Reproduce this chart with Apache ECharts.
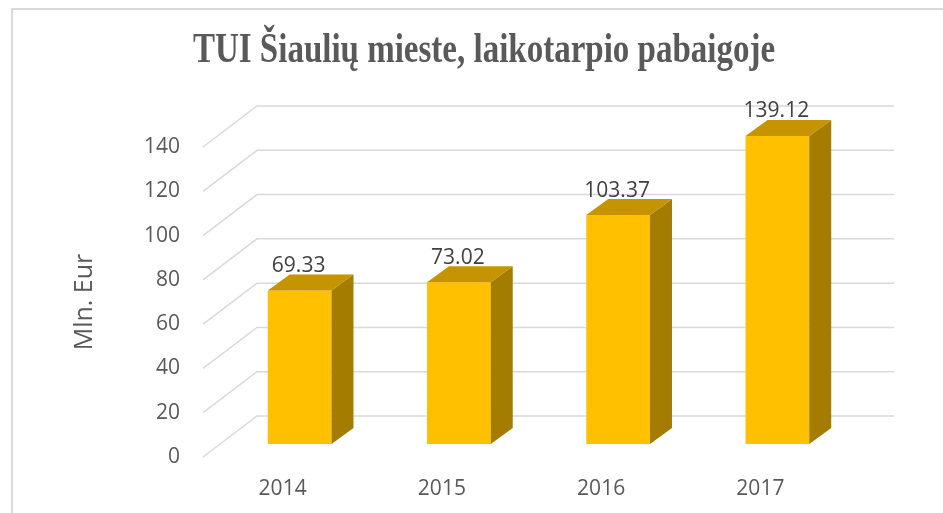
<!DOCTYPE html>
<html>
<head>
<meta charset="utf-8">
<script src="https://cdn.jsdelivr.net/npm/echarts@6/dist/echarts.min.js"></script>
<style>
  html, body { margin: 0; padding: 0; background: #fff; }
  #main { width: 943px; height: 513px; }
</style>
</head>
<body>
<div id="main"></div>
<script>
const years = ['2014', '2015', '2016', '2017'];
const values = [69.33, 73.02, 103.37, 139.12];
const yTicks = [0, 20, 40, 60, 80, 100, 120, 140];

// 3d look: back wall offset and bar depth (pixels)
const WALL_DX = 54, WALL_DY = 41;
const BAR_OX = 17, BAR_OY = 13;   // front face of bar sits a bit behind the floor edge
const BAR_DX = 22, BAR_DY = 16;

let chart = echarts.init(document.getElementById('main'));

let option = {
  animation: false,
  graphic: [
    {
      type: 'rect',
      shape: { x: 12, y: 9, width: 1000, height: 1000 },
      style: { fill: 'none', stroke: '#D9D9D9', lineWidth: 2 },
      z: -10
    },
    {
      // title, drawn a bit taller than wide like the original
      type: 'text',
      x: 484,
      y: 51,
      scaleY: 1.28,
      style: {
        text: 'TUI Šiaulių mieste, laikotarpio pabaigoje',
        x: 0,
        y: 0,
        align: 'center',
        verticalAlign: 'middle',
        fontFamily: 'Liberation Serif',
        fontWeight: 'bold',
        fontSize: 33,
        fill: '#595959'
      }
    }
  ],
  grid: { left: 203, right: 103, top: 147, bottom: 56 },
  xAxis: {
    type: 'category',
    data: years,
    axisLine: { show: false },
    axisTick: { show: false },
    axisLabel: { margin: 22, fontFamily: 'Open Sans', fontSize: 21, color: '#595959' }
  },
  yAxis: {
    type: 'value',
    min: 0,
    max: 140,
    interval: 20,
    name: 'Mln. Eur',
    nameLocation: 'middle',
    nameGap: 106,
    nameTextStyle: { fontFamily: 'Open Sans', fontSize: 25, color: '#595959' },
    axisLine: { show: false },
    axisTick: { show: false },
    splitLine: { show: false },
    axisLabel: { margin: 23, fontFamily: 'Open Sans', fontSize: 21, color: '#595959' }
  },
  series: [
    {
      // back wall and side wall gridlines
      type: 'custom',
      silent: true,
      z: 1,
      data: yTicks.map(v => [0, v]),
      renderItem: function (params, api) {
        let cs = params.coordSys;
        let y = api.coord([0, api.value(1)])[1];
        return {
          type: 'polyline',
          shape: {
            points: [
              [cs.x, y],
              [cs.x + WALL_DX, y - WALL_DY],
              [cs.x + cs.width + WALL_DX, y - WALL_DY]
            ]
          },
          style: { fill: 'none', stroke: '#D9D9D9', lineWidth: 1.5 }
        };
      }
    },
    {
      type: 'custom',
      z: 2,
      data: values.map((v, i) => [i, v]),
      renderItem: function (params, api) {
        let i = api.value(0);
        let v = api.value(1);
        let top = api.coord([i, v]);
        let base = api.coord([i, 0]);
        let w = api.size([1, 0])[0] * 0.4;
        let x0 = top[0] - w / 2 + BAR_OX;
        let x1 = x0 + w;
        let yt = top[1] - BAR_OY;
        let yb = base[1] - BAR_OY;
        return {
          type: 'group',
          children: [
            {
              type: 'rect',
              shape: { x: x0, y: yt, width: w, height: yb - yt },
              style: { fill: '#FFC000' }
            },
            {
              type: 'polygon',
              shape: { points: [[x1, yt], [x1 + BAR_DX, yt - BAR_DY], [x1 + BAR_DX, yb - BAR_DY], [x1, yb]] },
              style: { fill: '#A37C00' }
            },
            {
              type: 'polygon',
              shape: { points: [[x0, yt], [x0 + BAR_DX, yt - BAR_DY], [x1 + BAR_DX, yt - BAR_DY], [x1, yt]] },
              style: { fill: '#C59400' }
            },
            {
              type: 'text',
              style: {
                text: v.toFixed(2),
                x: (x0 + x1) / 2 - 1,
                y: yt - BAR_DY + 2,
                align: 'center',
                verticalAlign: 'bottom',
                fontFamily: 'Open Sans',
                fontSize: 21,
                fill: '#404040'
              }
            }
          ]
        };
      }
    }
  ]
};

chart.setOption(option);
</script>
</body>
</html>
